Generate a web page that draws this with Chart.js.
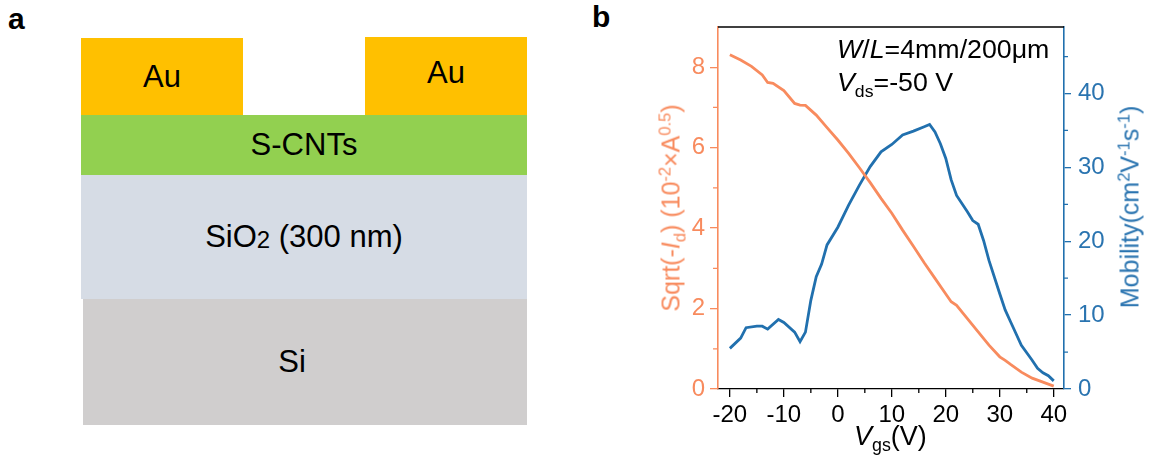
<!DOCTYPE html>
<html>
<head>
<meta charset="utf-8">
<script src="https://cdn.jsdelivr.net/npm/chart.js@4.4.1/dist/chart.umd.min.js"></script>
<style>
  body { margin: 0; width: 1149px; height: 474px; background: #fff; position: relative; overflow: hidden;
         font-family: "Liberation Sans", Arial, sans-serif; }
  .abs { position: absolute; white-space: nowrap; }
  .panel { font-weight: bold; font-size: 30px; color: #000; }
  .layer { position: absolute; display: flex; align-items: center; justify-content: center; font-size: 31px; color: #000; }
  .rot { transform: translate(-50%, -50%) rotate(-90deg); font-size: 25px; }
  sub, sup { font-size: 66%; line-height: 0; }
  #chartBox { position: absolute; left: 600px; top: 0; width: 549px; height: 474px; }
</style>
</head>
<body>
<div class="abs panel" style="left:8px; top:2px;">a</div>
<div class="abs panel" style="left:592px; top:0px;">b</div>

<!-- panel a: device stack -->
<div class="layer" style="left:81px; top:38px; width:162px; height:78px; background:#FFC000;">Au</div>
<div class="layer" style="left:365px; top:37px; width:162px; height:72px; background:#FFC000;">Au</div>
<div class="layer" style="left:365px; top:109px; width:162px; height:6px; background:#FFC000;"></div>
<div class="layer" style="left:81px; top:115px; width:446px; height:60px; background:#92D050;">S-CNTs</div>
<div class="layer" style="left:81px; top:175px; width:446px; height:124px; background:#D6DCE5;">SiO<span style="font-size:24px; position:relative; top:3px;">2</span>&nbsp;(300 nm)</div>
<div class="layer" style="left:83px; top:299px; width:444px; height:126px; background:#D0CECE;"><span style="margin-left:-26px;">Si</span></div>

<!-- panel b -->
<div id="chartBox"><canvas id="c" width="549" height="474"></canvas></div>

<div class="abs rot" style="left:671px; top:208px; color:#F88B5E;">Sqrt(-<i>I</i><sub>d</sub>) (10<sup>-2</sup>×A<sup>0.5</sup>)</div>
<div class="abs rot" style="left:1130px; top:207px; color:#2A74B0;">Mobility(cm<sup>2</sup>V<sup>-1</sup>s<sup>-1</sup>)</div>
<div class="abs" style="left:854px; top:421px; font-size:27px;"><i>V</i><sub>gs</sub>(V)</div>
<div class="abs" style="left:837px; top:35px; font-size:25px; transform-origin:0 0; transform:scaleX(1.07);"><i>W</i>/<i>L</i>=4mm/200μm</div>
<div class="abs" style="left:837px; top:68px; font-size:25px; transform-origin:0 0; transform:scaleX(1.07);"><i>V</i><sub>ds</sub>=-50 V</div>

<script>
// values
const vgsId = [-20, -18, -16, -14, -13, -12, -10, -8, -7, -6, -4, -2, 0, 2, 4, 6, 8, 10, 12, 14, 16, 18, 20, 21, 22, 24, 26, 28, 30, 31, 32, 34, 36, 38, 40];
const sqrtId = [8.31, 8.18, 8.02, 7.81, 7.62, 7.60, 7.42, 7.10, 7.06, 7.05, 6.81, 6.50, 6.19, 5.86, 5.50, 5.13, 4.74, 4.37, 3.95, 3.55, 3.14, 2.75, 2.36, 2.17, 2.08, 1.75, 1.42, 1.09, 0.80, 0.71, 0.61, 0.42, 0.27, 0.17, 0.07];

const vgsMu = [-20, -18, -17, -15, -14, -13, -11, -10, -8, -7, -6, -5, -4, -3, -2, 0, 2, 4, 6, 8, 10, 12, 14, 16, 17, 18, 19, 20, 21, 22, 24, 25, 26, 27, 28, 30, 31, 32, 34, 36, 37, 38, 39, 40];
const mobility = [5.5, 6.9, 8.3, 8.5, 8.5, 8.1, 9.4, 9.0, 7.7, 6.4, 7.7, 12.0, 15.2, 16.9, 19.5, 21.9, 24.9, 27.6, 30.1, 32.1, 33.1, 34.4, 34.9, 35.5, 35.8, 34.8, 33.2, 31.2, 28.3, 26.2, 24.0, 22.8, 22.3, 20.1, 17.4, 12.9, 10.7, 9.1, 5.9, 3.9, 2.8, 2.2, 1.8, 1.1];

const xTicks = [-20, -10, 0, 10, 20, 30, 40];
const xMinor = [-15, -5, 5, 15, 25, 35];
const leftTicks = [0, 2, 4, 6, 8];
const leftMinor = [1, 3, 5, 7];
const rightTicks = [0, 10, 20, 30, 40];
const rightMinor = [5, 15, 25, 35, 45];

const ORANGE = '#F88B5E';
const BLUE = '#2170AE';
const FONT = { family: '"Liberation Sans", Arial, sans-serif', size: 24 };

// short minor ticks + black top frame line
const minorTicks = {
    id: 'minorTicks',
    afterDraw(chart) {
        const { ctx, chartArea, scales } = chart;
        ctx.save();
        ctx.lineWidth = 1.3;
        ctx.strokeStyle = '#000';
        ctx.beginPath();
        ctx.moveTo(chartArea.left, chartArea.top);
        ctx.lineTo(chartArea.right, chartArea.top);
        ctx.stroke();
        ctx.beginPath();
        xMinor.forEach(v => {
            const px = scales.x.getPixelForValue(v);
            ctx.moveTo(px, chartArea.bottom);
            ctx.lineTo(px, chartArea.bottom + 4);
        });
        ctx.stroke();
        ctx.strokeStyle = ORANGE;
        ctx.beginPath();
        leftMinor.forEach(v => {
            const py = scales.yL.getPixelForValue(v);
            ctx.moveTo(chartArea.left, py);
            ctx.lineTo(chartArea.left - 5, py);
        });
        ctx.stroke();
        ctx.strokeStyle = BLUE;
        ctx.beginPath();
        rightMinor.forEach(v => {
            const py = scales.yR.getPixelForValue(v);
            ctx.moveTo(chartArea.right, py);
            ctx.lineTo(chartArea.right + 4, py);
        });
        ctx.stroke();
        ctx.restore();
    }
};

new Chart(document.getElementById('c'), {
    type: 'line',
    data: {
        datasets: [
            {
                data: vgsId.map((x, i) => ({ x, y: sqrtId[i] })),
                yAxisID: 'yL',
                borderColor: ORANGE,
                borderWidth: 2.8,
                pointRadius: 0,
                tension: 0
            },
            {
                data: vgsMu.map((x, i) => ({ x, y: mobility[i] })),
                yAxisID: 'yR',
                borderColor: BLUE,
                borderWidth: 2.8,
                pointRadius: 0,
                tension: 0
            }
        ]
    },
    options: {
        responsive: false,
        devicePixelRatio: 1,
        animation: false,
        layout: { padding: { top: 27, left: 0, right: 0, bottom: 0 } },
        plugins: { legend: { display: false }, tooltip: { enabled: false } },
        scales: {
            x: {
                type: 'linear',
                position: 'bottom',
                min: -22.2,
                max: 41.9,
                afterBuildTicks: s => { s.ticks = xTicks.map(v => ({ value: v })); },
                afterFit: s => { s.height = 85; },
                ticks: { color: '#000', font: FONT, padding: 4, maxRotation: 0 },
                grid: { drawOnChartArea: false, color: '#000', lineWidth: 1.3, tickLength: 8 },
                border: { color: '#000', width: 1.3 }
            },
            yL: {
                type: 'linear',
                position: 'left',
                min: 0,
                max: 9,
                afterBuildTicks: s => { s.ticks = leftTicks.map(v => ({ value: v })); },
                afterFit: s => { s.width = 118; },
                ticks: { color: ORANGE, font: FONT, padding: 5 },
                grid: { drawOnChartArea: false, color: ORANGE, lineWidth: 1.3, tickLength: 8 },
                border: { color: ORANGE, width: 1.6 }
            },
            yR: {
                type: 'linear',
                position: 'right',
                min: 0,
                max: 49,
                afterBuildTicks: s => { s.ticks = rightTicks.map(v => ({ value: v })); },
                afterFit: s => { s.width = 85; },
                ticks: { color: '#2A74B0', font: FONT, padding: 7 },
                grid: { drawOnChartArea: false, color: BLUE, lineWidth: 1.3, tickLength: 7 },
                border: { color: BLUE, width: 1.6 }
            }
        }
    },
    plugins: [minorTicks]
});
</script>
</body>
</html>
